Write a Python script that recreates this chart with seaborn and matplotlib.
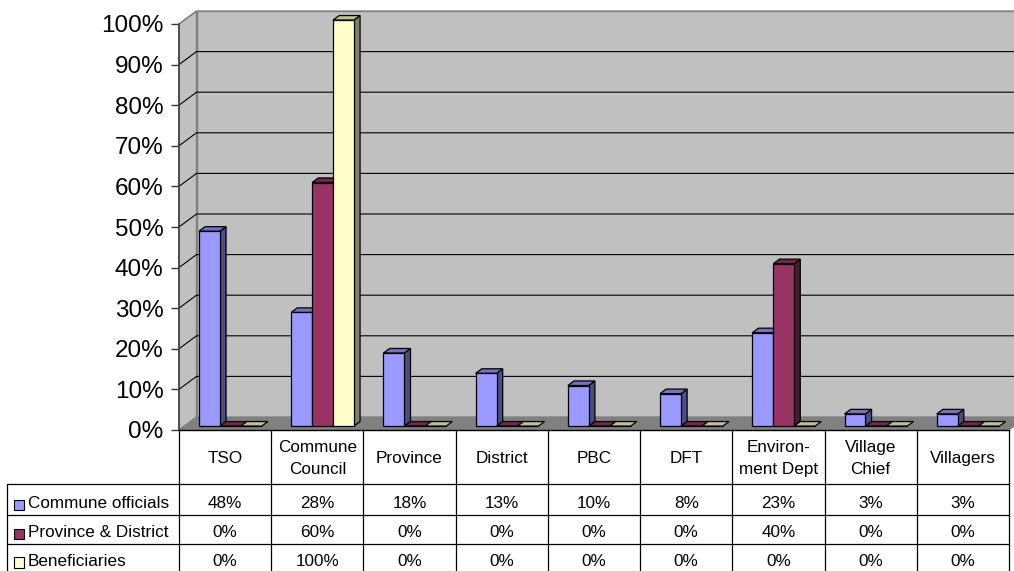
import numpy as np
import pandas as pd
import matplotlib
matplotlib.use("Agg")
import matplotlib.pyplot as plt
import matplotlib.transforms as mtransforms
from matplotlib.patches import Polygon, Rectangle
from matplotlib.lines import Line2D
import seaborn as sns

# ---- data -----------------------------------------------------------------
categories = ["TSO", "Commune\nCouncil", "Province", "District", "PBC", "DFT",
              "Environ-\nment Dept", "Village\nChief", "Villagers"]
series_names = ["Commune officials", "Province & District", "Beneficiaries"]
commune_officials = [48, 28, 18, 13, 10, 8, 23, 3, 3]
province_district = [0, 60, 0, 0, 0, 0, 40, 0, 0]
beneficiaries = [0, 100, 0, 0, 0, 0, 0, 0, 0]
y_ticks = list(range(0, 101, 10))

# ---- styling --------------------------------------------------------------
front_colors = ["#9999FF", "#993366", "#FFFFCC"]
top_colors = ["#7373BF", "#73264D", "#BFBF99"]
side_colors = ["#4D4D80", "#4D1A33", "#808066"]
WALL = "#C0C0C0"
FLOOR = "#808080"
EDGE = "#808080"

sns.set_theme(style="white")
plt.rcParams["font.family"] = ["Liberation Sans", "DejaVu Sans"]
plt.rcParams["text.color"] = "black"
plt.rcParams["ytick.labelcolor"] = "black"

W, H = 1014, 571
fig = plt.figure(figsize=(W / 100, H / 100), dpi=100)


def fx(px):
    return px / W


def fy(py):
    return 1 - py / H


# axes = front plane of the 3D plot box
ax = fig.add_axes([fx(179), fy(430), fx(1009) - fx(179), fy(24) - fy(430)])
ax.set_facecolor("none")

df = pd.DataFrame({
    "category": np.repeat([categories], 3, axis=0).ravel(),
    "series": np.repeat(series_names, len(categories)),
    "value": commune_officials + province_district + beneficiaries,
})

sns.barplot(data=df, x="category", y="value", hue="series", order=categories,
            hue_order=series_names, palette=front_colors, saturation=1,
            width=0.68, edgecolor="black", linewidth=0.9, legend=False, ax=ax)

ax.set_xlim(-0.5, len(categories) - 0.5)
ax.set_ylim(0, 100)

# depth of the plot box in pixels, and where the bars sit inside it
DX, DY = 17.5, 13.0
T0, T1 = 0.30, 0.65
inv_fig = fig.transFigure.inverted()


def to_fig(x, y, t):
    d = ax.transData.transform((x, y)) + np.array([t * DX, t * DY]) * fig.dpi / 100
    return inv_fig.transform(d)


def add_poly(pts, fc, ec, lw, z):
    ax.add_patch(Polygon(pts, closed=True, transform=fig.transFigure,
                         facecolor=fc, edgecolor=ec, linewidth=lw,
                         zorder=z, clip_on=False))


x_lo, x_hi = ax.get_xlim()

# walls and floor
add_poly([to_fig(x_lo, 0, 1), to_fig(x_hi, 0, 1), to_fig(x_hi, 100, 1),
          to_fig(x_lo, 100, 1)], WALL, EDGE, 1.0, 1)
add_poly([to_fig(x_lo, 0, 0), to_fig(x_lo, 0, 1), to_fig(x_lo, 100, 1),
          to_fig(x_lo, 100, 0)], WALL, EDGE, 1.0, 1)
for v in y_ticks[1:]:
    pts = np.array([to_fig(x_lo, v, 0), to_fig(x_lo, v, 1), to_fig(x_hi, v, 1)])
    ax.add_line(Line2D(pts[:, 0], pts[:, 1], transform=fig.transFigure,
                       color="black" if v < 100 else EDGE, linewidth=0.8,
                       zorder=1.5, clip_on=False))
add_poly([to_fig(x_lo, 0, 0), to_fig(x_hi, 0, 0), to_fig(x_hi, 0, 1),
          to_fig(x_lo, 0, 1)], FLOOR, FLOOR, 0.8, 2)

# 3D bars: seaborn's rectangles are the front faces, sides and tops added
front_shift = mtransforms.ScaledTranslation(T0 * DX / 100, T0 * DY / 100,
                                            fig.dpi_scale_trans)
bars = []
for j, cont in enumerate(ax.containers):
    for p in cont.patches:
        bars.append((p.get_x(), j, p))
bars.sort(key=lambda b: b[0])

for k, (x0, j, p) in enumerate(bars):
    x1 = x0 + p.get_width()
    h = p.get_height()
    z = 3 + 0.02 * k
    if h > 0:
        add_poly([to_fig(x1, 0, T0), to_fig(x1, 0, T1), to_fig(x1, h, T1),
                  to_fig(x1, h, T0)], side_colors[j], "black", 0.9, z)
    add_poly([to_fig(x0, h, T0), to_fig(x1, h, T0), to_fig(x1, h, T1),
              to_fig(x0, h, T1)], top_colors[j], "black", 0.9, z)
    p.set_transform(ax.transData + front_shift)
    p.set_clip_on(False)
    p.set_zorder(z + 0.01)

# axes decoration
ax.set_xticks([])
ax.set_xlabel("")
ax.set_ylabel("")
ax.set_yticks(y_ticks)
ax.set_yticklabels([f"{v}%" for v in y_ticks], fontsize=17.5, color="black")
ax.tick_params(axis="y", length=6, width=1, pad=5, color="#333333", left=True)
for s in ["top", "right"]:
    ax.spines[s].set_visible(False)
ax.spines["left"].set_color("#404040")
ax.spines["left"].set_linewidth(1.2)
ax.spines["bottom"].set_color("black")
ax.spines["bottom"].set_linewidth(1.0)

# ---- data table under the plot -------------------------------------------
col_edges = [ax.transData.transform((i - 0.5, 0))[0] / fig.dpi * 100
             for i in range(len(categories) + 1)]
col_centers = [ax.transData.transform((i, 0))[0] / fig.dpi * 100
               for i in range(len(categories))]
TOP, HEAD_BOT = 430, 484
row_lines = [484, 515, 544]
row_text_y = [503.5, 532.5, 561.0]
TAB_LEFT, TAB_BOT = 7, 575


def fig_line(x0, y0, x1, y1):
    fig.add_artist(Line2D([fx(x0), fx(x1)], [fy(y0), fy(y1)],
                          transform=fig.transFigure, color="black",
                          linewidth=0.9))


for xe in col_edges:
    fig_line(xe, TOP, xe, TAB_BOT)
fig_line(TAB_LEFT, HEAD_BOT, TAB_LEFT, TAB_BOT)
for yl in row_lines:
    fig_line(TAB_LEFT, yl, col_edges[-1], yl)

TFS = 12.3
for xc, cat in zip(col_centers, categories):
    fig.text(fx(xc), fy(458.5), cat, ha="center", va="center", fontsize=TFS,
             linespacing=1.55, color="black")

series_values = [commune_officials, province_district, beneficiaries]
for r, (name, vals) in enumerate(zip(series_names, series_values)):
    yc = row_text_y[r]
    fig.add_artist(Rectangle((fx(13.5), fy(yc + 6.5)), fx(10.5), fy(0) - fy(10.5),
                             transform=fig.transFigure, facecolor=front_colors[r],
                             edgecolor="black", linewidth=0.8))
    fig.text(fx(28), fy(yc), name, ha="left", va="center", fontsize=TFS,
             color="black")
    for xc, v in zip(col_centers, vals):
        fig.text(fx(xc), fy(yc), f"{v}%", ha="center", va="center",
                 fontsize=TFS, color="black")

fig.savefig("out.png", dpi=100)
